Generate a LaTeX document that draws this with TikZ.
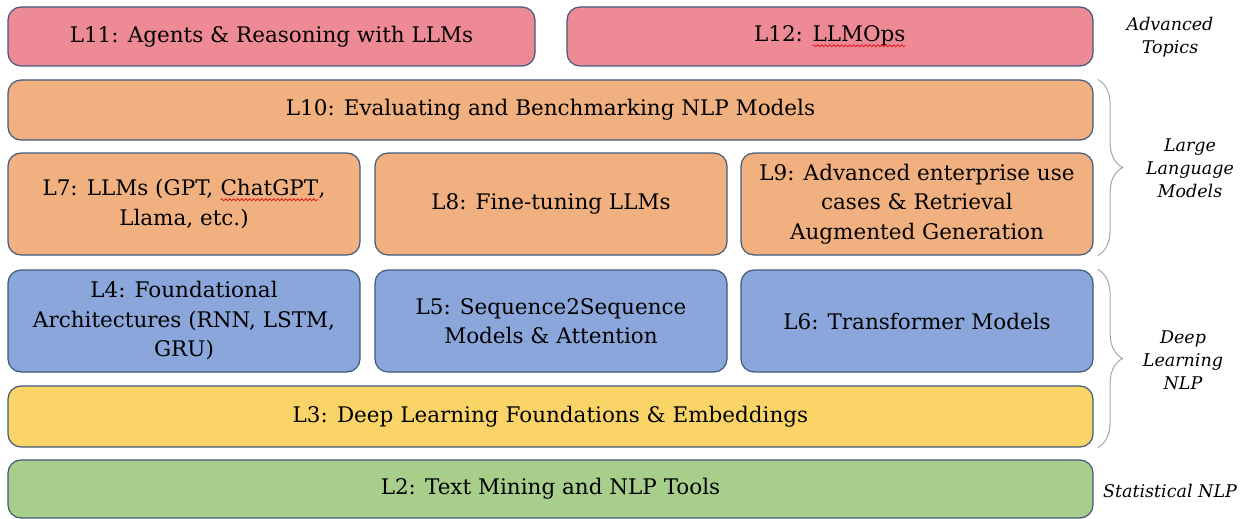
\documentclass[tikz,border=0pt]{standalone}
\usepackage{fontspec}
\setmainfont{DejaVu Serif}
\usetikzlibrary{decorations.pathreplacing,decorations.pathmorphing}

\definecolor{rimcol}{HTML}{41597A}
\definecolor{pinkcol}{HTML}{EE8A96}
\definecolor{orangecol}{HTML}{F0B07F}
\definecolor{bluecol}{HTML}{8BA6DA}
\definecolor{yellowcol}{HTML}{FAD466}
\definecolor{greencol}{HTML}{A8CE8C}
\definecolor{wavecol}{HTML}{E02020}

% red spell-check wave under a word
\newcommand\spellwave[1]{\tikz[baseline=(word.base)]{%
	\node [draw=none, fill=none, inner sep=0pt, outer sep=0pt, minimum width=0pt, minimum height=0pt,
		rounded corners=0pt] (word) {#1};
	\draw [wavecol, line width=0.8pt, rounded corners=0pt, decorate,
		decoration={snake, amplitude=1pt, segment length=4pt}]
		([yshift=-4pt]word.base west) -- ([yshift=-4pt]word.base east);}}

\begin{document}
\begin{tikzpicture}[x=1pt,y=-1pt,
		lecture/.style={draw=rimcol, line width=1.2pt, rounded corners=13pt, inner sep=0pt,
			align=center, font=\fontsize{21.5}{29.5}\selectfont},
		wide/.style={lecture, minimum width=1085pt},
		tall/.style={lecture, minimum width=352pt, minimum height=102pt},
		levelbrace/.style={draw=gray!70, line width=1pt, decorate,
			decoration={brace, amplitude=25pt, aspect=0.5}},
		level/.style={align=center, font=\fontsize{17.5}{23}\selectfont\itshape}]
	\useasboundingbox ( 0, 0 ) rectangle ( 1240, 519 );

	% advanced topics
	\node [lecture, fill=pinkcol, minimum width=527pt, minimum height=59pt] (l11) at ( 271.5, 36.5 ) {L11: Agents \& Reasoning with LLMs};
	\node [lecture, fill=pinkcol, minimum width=526pt, minimum height=59pt] (l12) at ( 830, 36.5 ) {L12: \spellwave{LLMOps}};

	% large language models
	\node [wide, fill=orangecol, minimum height=60pt] (l10) at ( 550.5, 110 ) {L10: Evaluating and Benchmarking NLP Models};
	\node [tall, fill=orangecol] (l7) at ( 184, 204 ) {L7: LLMs (GPT, \spellwave{ChatGPT},\\Llama, etc.)};
	\node [tall, fill=orangecol] (l8) at ( 551, 204 ) {L8: Fine-tuning LLMs};
	\node [tall, fill=orangecol] (l9) at ( 917, 204 ) {L9: Advanced enterprise use\\cases \& Retrieval\\Augmented Generation};

	% deep learning
	\node [tall, fill=bluecol] (l4) at ( 184, 321 ) {L4: Foundational\\Architectures (RNN, LSTM,\\GRU)};
	\node [tall, fill=bluecol] (l5) at ( 551, 321 ) {L5: Sequence2Sequence\\Models \& Attention};
	\node [tall, fill=bluecol] (l6) at ( 917, 321 ) {L6: Transformer Models};
	\node [wide, fill=yellowcol, minimum height=61pt] (l3) at ( 550.5, 416.5 ) {L3: Deep Learning Foundations \& Embeddings};

	% statistical nlp
	\node [wide, fill=greencol, minimum height=58pt] (l2) at ( 550.5, 489 ) {L2: Text Mining and NLP Tools};

	% levels
	\draw [levelbrace] ([xshift=4pt]l10.north east) -- ([xshift=4pt]l9.south east);
	\draw [levelbrace] ([xshift=4pt]l6.north east) -- ([xshift=4pt]l3.south east);
	\node [level] (advanced) at ( 1170, 37 ) {Advanced\\Topics};
	\node [level] (llms) at ( 1190, 168 ) {Large\\Language\\Models};
	\node [level] (deep) at ( 1183, 360 ) {Deep\\Learning\\NLP};
	\node [level] (statistical) at ( 1170, 491 ) {Statistical NLP};
\end{tikzpicture}
\end{document}
